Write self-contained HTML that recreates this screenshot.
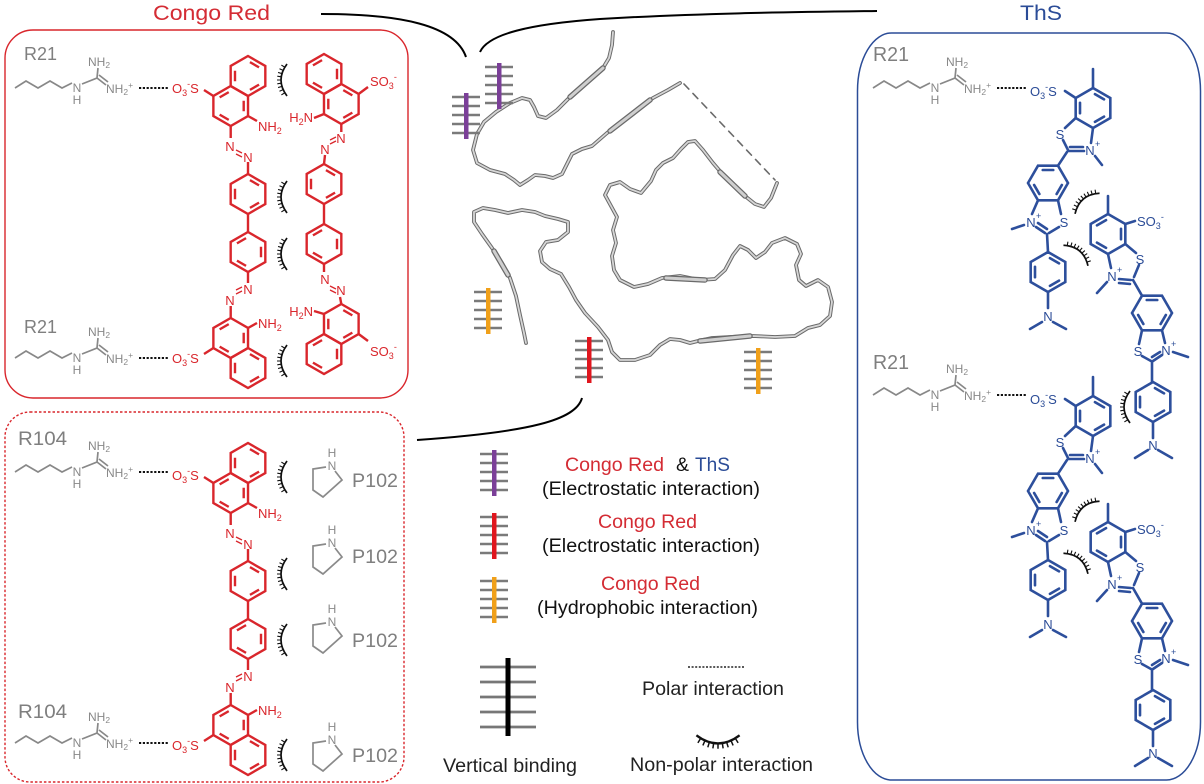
<!DOCTYPE html>
<html><head><meta charset="utf-8"><style>
html,body{margin:0;padding:0;background:#fff;}
svg{display:block;}
text{font-family:"Liberation Sans",Arial,sans-serif;}
</style></head><body>
<svg width="1204" height="784" viewBox="0 0 1204 784" xmlns="http://www.w3.org/2000/svg" xmlns:xlink="http://www.w3.org/1999/xlink">
<defs>
<g id="hx"><path d="M0,-20L17.32,-10L17.32,10L0,20L-17.32,10L-17.32,-10Z"/><path d="M1.95,-13.9L11.04,-8.6M11.05,8.6L1.95,13.9M-13,5.25L-13,-5.25"/></g>
<g id="hy"><path d="M0,-20L17.32,-10L17.32,10L0,20L-17.32,10L-17.32,-10Z"/><path d="M13,-5.25L13,5.25M-1.95,13.9L-11.05,8.6M-11.05,-8.6L-1.95,-13.9"/></g>
<g id="hf"><path d="M-20,0L-10,-17.32L10,-17.32L20,0L10,17.32L-10,17.32Z"/><path d="M-5.25,-13L5.25,-13M13.9,1.95L8.6,11.05M-8.6,11.05L-13.9,1.95"/></g>
<g id="arc" fill="none" stroke="#111"><path stroke-width="1.7" d="M2,-16Q-10,0 2,16"/><path stroke-width="1.1" d="M-0.16,-12.8L-3.6,-14.9M-1.84,-9.6L-5.5,-11.2M-3.04,-6.4L-6.9,-7.55M-3.76,-3.2L-7.7,-3.8M-4,0L-8,0M-3.76,3.2L-7.7,3.8M-3.04,6.4L-6.9,7.55M-1.84,9.6L-5.5,11.2M-0.16,12.8L-3.6,14.9"/></g>
<g id="ticks" stroke="#7a7a7a" stroke-width="2.4" fill="none"><path d="M-14,4H14M-14,13H14M-14,22H14M-14,31H14M-14,40H14"/></g>
<g id="argS" fill="none" stroke="#888" stroke-width="1.7">
<polyline points="15,88 26,81 38,88 50,81 62,88 72,83"/>
<path d="M82,84L97,78L98,68M97,78L106,85M99,75L108,82"/>
<path d="M139,88H168" stroke="#111" stroke-width="1.9" stroke-dasharray="2.2 1.6"/>
</g>
<g id="pent" fill="none" stroke="#8a8a8a" stroke-width="1.7"><path d="M-6,1L-19,3L-19,24L-9,31L10,14L3,5"/></g>
<g id="crL" fill="none" stroke="#d9262c" stroke-width="2.4">
<use href="#hx" xlink:href="#hx" x="248" y="76"/>
<use href="#hy" xlink:href="#hy" x="230.7" y="106"/>
<use href="#hx" xlink:href="#hx" x="248" y="194"/>
<use href="#hy" xlink:href="#hy" x="248" y="252"/>
<use href="#hy" xlink:href="#hy" x="230.7" y="338"/>
<use href="#hx" xlink:href="#hx" x="248" y="368"/>
<path d="M213.4,96L204,90M248,116L257,121M230.7,126L230.7,138M248,162L248,174M248,214L248,232M248,272L248,283M230.7,306L230.7,318M248,328L257,323M213.4,348L204,354"/>
<path d="M236,150L242,153M236,154L242,157M236,290L242,287M236,294L242,291" stroke-width="1.3"/>
</g>
<g id="thsS" fill="none" stroke="#2d4f9c" stroke-width="2.6" stroke-linecap="round">
<use href="#hx" xlink:href="#hx" x="1093" y="108"/>
<use href="#hf" xlink:href="#hf" x="1048" y="183"/>
<use href="#hx" xlink:href="#hx" x="1048" y="272"/>
<use href="#hy" xlink:href="#hy" x="1108" y="234"/>
<use href="#hf" xlink:href="#hf" x="1152" y="313"/>
<use href="#hx" xlink:href="#hx" x="1153" y="402"/>
<path d="M1093,88V69M1075.7,98L1065,91M1075.7,118L1065,128M1063,140L1068,150M1093,128L1091,143M1068,151H1084M1070,147H1083M1095,156L1102,165M1067,152L1058,165.7
M1038,200.3L1032,214M1058,200.3L1061,214M1036,227L1045,233M1038,223L1047,229M1049,233L1059,227M1024,225L1012,229M1047,234L1048,252M1048,292V308M1042,322L1030,329M1053,322L1066,329
M1108,214V196M1125.3,224L1135,221M1125.3,244L1136,253M1108,254L1111,268M1119,279L1131,280M1119,283L1130,284M1134,277L1139,265M1107,282L1097,293M1133,280L1142,295.7
M1142,330.3L1139,344M1162,330.3L1165,343M1142,356L1151,361M1153,361L1162,355M1152,357L1160,352M1173,352L1188,357M1152,362V382M1153,422V438M1148,450L1135,458M1158,450L1172,458"/>
</g>
</defs>

<!-- Titles -->
<text x="153" y="20" font-size="21" fill="#d42c34" textLength="117" lengthAdjust="spacingAndGlyphs">Congo Red</text>
<text x="1020" y="20" font-size="21" fill="#2b4c97" textLength="42" lengthAdjust="spacingAndGlyphs">ThS</text>

<!-- connectors -->
<g fill="none" stroke="#000" stroke-width="2">
<path d="M321,14C400,14 455,25 466,57"/>
<path d="M480,52C488,34 530,24 600,19C700,13 800,12 877,11"/>
<path d="M582,398C576,420 530,432 417,440"/>
</g>

<!-- boxes -->
<rect x="5" y="30" width="403" height="368" rx="28" ry="28" fill="none" stroke="#d9262c" stroke-width="1.4"/>
<rect x="5" y="412" width="399" height="370" rx="25" ry="25" fill="none" stroke="#d9262c" stroke-width="1.4" stroke-dasharray="2.5 2"/>
<rect x="857.5" y="33" width="343" height="747" rx="34" ry="58" fill="none" stroke="#2b4c97" stroke-width="1.5"/>

<!-- protein ribbon -->
<g fill="none" stroke-linejoin="round" stroke-linecap="round">
<polyline stroke="#6a6a6a" stroke-width="3.8" points="613,32 612,45 609,58 603,68 592,78 580,88 568,99 557,110 546,118 538,116 534,107 530,100 522,98 510,103 496,112 484,122 477,134 473,150 477,163 490,170 505,174 514,180 520,185 528,180 535,175 545,176 553,178 562,174 567,164 572,154 582,149 592,146 607,133 633,113 653,98 668,90 680,83"/>
<polyline stroke="#d6d6d6" stroke-width="1.8" points="613,32 612,45 609,58 603,68 592,78 580,88 568,99 557,110 546,118 538,116 534,107 530,100 522,98 510,103 496,112 484,122 477,134 473,150 477,163 490,170 505,174 514,180 520,185 528,180 535,175 545,176 553,178 562,174 567,164 572,154 582,149 592,146 607,133 633,113 653,98 668,90 680,83"/>
<path d="M684,84L775,180" stroke="#6a6a6a" stroke-width="1.6" stroke-dasharray="7 6"/>
<polyline stroke="#6a6a6a" stroke-width="3.8" points="777,183 771,198 764,207 755,204 745,196 735,186 725,177 713,163 703,150 695,141 688,142 681,149 673,158 663,163 656,170 651,181 641,193 630,189 620,182 610,185 605,195 611,206 617,217 613,230 616,243 612,256 614,270 620,280 634,287 648,284 662,278 680,276 700,280 715,279 725,270 733,255 740,246 748,250 756,258 765,252 772,243 785,238 797,244 801,254 796,265 799,280 806,286 818,280 828,287 832,302 830,316 820,325 808,328 795,336 775,337 753,336 730,337 712,338 698,341 690,343 680,340 670,339 660,345 650,355 635,360 620,360 612,352 608,340 598,327 585,313 576,300 569,287 561,274 550,269 542,262 540,251 546,242 558,240 568,232 568,222 558,219 545,216 535,212 522,210 508,213 495,210 483,208 474,212 474,222 482,234 492,248 502,263 510,278 516,296 520,315 524,333 526,343"/>
<polyline stroke="#d6d6d6" stroke-width="1.8" points="777,183 771,198 764,207 755,204 745,196 735,186 725,177 713,163 703,150 695,141 688,142 681,149 673,158 663,163 656,170 651,181 641,193 630,189 620,182 610,185 605,195 611,206 617,217 613,230 616,243 612,256 614,270 620,280 634,287 648,284 662,278 680,276 700,280 715,279 725,270 733,255 740,246 748,250 756,258 765,252 772,243 785,238 797,244 801,254 796,265 799,280 806,286 818,280 828,287 832,302 830,316 820,325 808,328 795,336 775,337 753,336 730,337 712,338 698,341 690,343 680,340 670,339 660,345 650,355 635,360 620,360 612,352 608,340 598,327 585,313 576,300 569,287 561,274 550,269 542,262 540,251 546,242 558,240 568,232 568,222 558,219 545,216 535,212 522,210 508,213 495,210 483,208 474,212 474,222 482,234 492,248 502,263 510,278 516,296 520,315 524,333 526,343"/>
<g stroke="#6a6a6a" stroke-width="5.5">
<path d="M603,68L570,97"/><path d="M610,131L650,100"/><path d="M745,196L720,172"/><path d="M700,341L750,336"/><path d="M666,278L705,280"/><path d="M494,251L508,275"/>
</g>
<g stroke="#cfcfcf" stroke-width="3">
<path d="M603,68L570,97"/><path d="M610,131L650,100"/><path d="M745,196L720,172"/><path d="M700,341L750,336"/><path d="M666,278L705,280"/><path d="M494,251L508,275"/>
</g>
</g>

<!-- binding bars on protein -->
<g transform="translate(466,93)"><use href="#ticks" xlink:href="#ticks"/><rect x="-2" y="0" width="4.5" height="46" fill="#7b3f98"/></g>
<g transform="translate(499,63)"><use href="#ticks" xlink:href="#ticks"/><rect x="-2" y="0" width="4.5" height="46" fill="#7b3f98"/></g>
<g transform="translate(488,288)"><use href="#ticks" xlink:href="#ticks"/><rect x="-2" y="0" width="4.5" height="46" fill="#f0a01a"/></g>
<g transform="translate(589,337)"><use href="#ticks" xlink:href="#ticks"/><rect x="-2" y="0" width="4.5" height="46" fill="#e0161e"/></g>
<g transform="translate(758,348)"><use href="#ticks" xlink:href="#ticks"/><rect x="-2" y="0" width="4.5" height="46" fill="#f0a01a"/></g>

<!-- legend -->
<g transform="translate(494,450)"><use href="#ticks" xlink:href="#ticks"/><rect x="-2" y="0" width="4.5" height="46" fill="#7b3f98"/></g>
<g transform="translate(494,513)"><use href="#ticks" xlink:href="#ticks"/><rect x="-2" y="0" width="4.5" height="46" fill="#e0161e"/></g>
<g transform="translate(494,577)"><use href="#ticks" xlink:href="#ticks"/><rect x="-2" y="0" width="4.5" height="46" fill="#f0a01a"/></g>
<g font-size="19.5">
<text x="565" y="471" fill="#d42c34" textLength="99" lengthAdjust="spacingAndGlyphs">Congo Red</text>
<text x="676" y="471" fill="#111">&amp;</text>
<text x="695" y="471" fill="#2b4c97" textLength="35" lengthAdjust="spacingAndGlyphs">ThS</text>
<text x="542" y="495" fill="#111" textLength="218" lengthAdjust="spacingAndGlyphs">(Electrostatic interaction)</text>
<text x="598" y="528" fill="#d42c34" textLength="99" lengthAdjust="spacingAndGlyphs">Congo Red</text>
<text x="542" y="552" fill="#111" textLength="218" lengthAdjust="spacingAndGlyphs">(Electrostatic interaction)</text>
<text x="601" y="590" fill="#d42c34" textLength="99" lengthAdjust="spacingAndGlyphs">Congo Red</text>
<text x="537" y="614" fill="#111" textLength="221" lengthAdjust="spacingAndGlyphs">(Hydrophobic interaction)</text>
<text x="443" y="772" fill="#222" textLength="134" lengthAdjust="spacingAndGlyphs">Vertical binding</text>
<text x="642" y="695" fill="#222" textLength="142" lengthAdjust="spacingAndGlyphs">Polar interaction</text>
<text x="630" y="771" fill="#222" textLength="183" lengthAdjust="spacingAndGlyphs">Non-polar interaction</text>
</g>
<g stroke="#777" stroke-width="2.8"><path d="M480,667H536M480,682H536M480,697H536M480,712H536M480,727H536"/></g>
<rect x="505.5" y="658" width="5" height="78" fill="#000"/>
<path d="M688,667H744" stroke="#222" stroke-width="1.6" stroke-dasharray="2 1.6"/>
<use href="#arc" xlink:href="#arc" transform="translate(718,738) rotate(-90) scale(1.35)"/>

<!-- labels -->
<g fill="#7f7f7f" font-size="18">
<text x="24" y="60" textLength="33" lengthAdjust="spacingAndGlyphs">R21</text>
<text x="24" y="333" textLength="33" lengthAdjust="spacingAndGlyphs">R21</text>
<text x="18" y="445" font-size="19" textLength="49" lengthAdjust="spacingAndGlyphs">R104</text>
<text x="18" y="718" font-size="19" textLength="49" lengthAdjust="spacingAndGlyphs">R104</text>
<text x="873" y="61" font-size="20" textLength="36" lengthAdjust="spacingAndGlyphs">R21</text>
<text x="873" y="369" font-size="20" textLength="36" lengthAdjust="spacingAndGlyphs">R21</text>
</g>

<!-- arginines -->
<g transform="translate(0,0)"><use href="#argS" xlink:href="#argS"/>
<g fill="#888" font-size="12"><text x="88" y="66">NH<tspan font-size="8.5" dy="2">2</tspan></text><text x="106" y="93">NH<tspan font-size="8.5" dy="2">2</tspan><tspan font-size="8.5" dy="-7">+</tspan></text><text x="77" y="92" text-anchor="middle">N</text><text x="77" y="104" text-anchor="middle">H</text></g></g>
<g transform="translate(0,270)"><use href="#argS" xlink:href="#argS"/>
<g fill="#888" font-size="12"><text x="88" y="66">NH<tspan font-size="8.5" dy="2">2</tspan></text><text x="106" y="93">NH<tspan font-size="8.5" dy="2">2</tspan><tspan font-size="8.5" dy="-7">+</tspan></text><text x="77" y="92" text-anchor="middle">N</text><text x="77" y="104" text-anchor="middle">H</text></g></g>
<g transform="translate(0,384)"><use href="#argS" xlink:href="#argS"/>
<g fill="#888" font-size="12"><text x="88" y="66">NH<tspan font-size="8.5" dy="2">2</tspan></text><text x="106" y="93">NH<tspan font-size="8.5" dy="2">2</tspan><tspan font-size="8.5" dy="-7">+</tspan></text><text x="77" y="92" text-anchor="middle">N</text><text x="77" y="104" text-anchor="middle">H</text></g></g>
<g transform="translate(0,655)"><use href="#argS" xlink:href="#argS"/>
<g fill="#888" font-size="12"><text x="88" y="66">NH<tspan font-size="8.5" dy="2">2</tspan></text><text x="106" y="93">NH<tspan font-size="8.5" dy="2">2</tspan><tspan font-size="8.5" dy="-7">+</tspan></text><text x="77" y="92" text-anchor="middle">N</text><text x="77" y="104" text-anchor="middle">H</text></g></g>
<g transform="translate(858,0)"><use href="#argS" xlink:href="#argS"/>
<g fill="#888" font-size="12"><text x="88" y="66">NH<tspan font-size="8.5" dy="2">2</tspan></text><text x="106" y="93">NH<tspan font-size="8.5" dy="2">2</tspan><tspan font-size="8.5" dy="-7">+</tspan></text><text x="77" y="92" text-anchor="middle">N</text><text x="77" y="104" text-anchor="middle">H</text></g></g>
<g transform="translate(858,307)"><use href="#argS" xlink:href="#argS"/>
<g fill="#888" font-size="12"><text x="88" y="66">NH<tspan font-size="8.5" dy="2">2</tspan></text><text x="106" y="93">NH<tspan font-size="8.5" dy="2">2</tspan><tspan font-size="8.5" dy="-7">+</tspan></text><text x="77" y="92" text-anchor="middle">N</text><text x="77" y="104" text-anchor="middle">H</text></g></g>

<!-- Congo red left molecule (top box) -->
<use href="#crL" xlink:href="#crL"/>
<g fill="#d9262c" font-size="13">
<text x="172" y="93">O<tspan font-size="9" dy="3">3</tspan><tspan font-size="9" dy="-9">-</tspan><tspan dy="6">S</tspan></text>
<text x="258" y="131">NH<tspan font-size="9" dy="3">2</tspan></text>
<text x="230" y="151" text-anchor="middle">N</text>
<text x="248" y="162" text-anchor="middle">N</text>
<text x="248" y="294" text-anchor="middle">N</text>
<text x="230" y="305" text-anchor="middle">N</text>
<text x="258" y="328">NH<tspan font-size="9" dy="3">2</tspan></text>
<text x="172" y="363">O<tspan font-size="9" dy="3">3</tspan><tspan font-size="9" dy="-9">-</tspan><tspan dy="6">S</tspan></text>
</g>

<!-- Congo red right molecule (top box) -->
<g fill="none" stroke="#d9262c" stroke-width="2.4">
<use href="#hy" xlink:href="#hy" x="324" y="74"/>
<use href="#hx" xlink:href="#hx" x="341.3" y="104"/>
<use href="#hx" xlink:href="#hx" x="324" y="184"/>
<use href="#hy" xlink:href="#hy" x="324" y="244"/>
<use href="#hx" xlink:href="#hx" x="341.3" y="324"/>
<use href="#hy" xlink:href="#hy" x="324" y="354"/>
<path d="M358.6,94L368,87M324,114L314,118M341.3,124L341.3,132M325,155L324,164M324,204L324,224M324,264L324,272M340,297L341.3,304M324,314L314,311M358.6,334L368,341"/>
<path d="M330,140L336,137M330,144L336,141M330,286L336,289M330,290L336,293" stroke-width="1.3"/>
</g>
<g fill="#d9262c" font-size="13">
<text x="370" y="86">SO<tspan font-size="9" dy="3">3</tspan><tspan font-size="9" dy="-9">-</tspan></text>
<text x="313" y="122" text-anchor="end">H<tspan font-size="9" dy="3">2</tspan><tspan dy="-3">N</tspan></text>
<text x="341" y="143" text-anchor="middle">N</text>
<text x="325" y="154" text-anchor="middle">N</text>
<text x="325" y="284" text-anchor="middle">N</text>
<text x="341" y="295" text-anchor="middle">N</text>
<text x="313" y="316" text-anchor="end">H<tspan font-size="9" dy="3">2</tspan><tspan dy="-3">N</tspan></text>
<text x="370" y="356">SO<tspan font-size="9" dy="3">3</tspan><tspan font-size="9" dy="-9">-</tspan></text>
</g>

<!-- arcs top box -->
<use href="#arc" xlink:href="#arc" transform="translate(285,80)"/>
<use href="#arc" xlink:href="#arc" transform="translate(285,197)"/>
<use href="#arc" xlink:href="#arc" transform="translate(285,254)"/>
<use href="#arc" xlink:href="#arc" transform="translate(285,361)"/>

<!-- ========== bottom dashed box ========== -->
<use href="#crL" xlink:href="#crL" transform="translate(0,387)"/>
<g fill="#d9262c" font-size="13" transform="translate(0,387)">
<text x="172" y="93">O<tspan font-size="9" dy="3">3</tspan><tspan font-size="9" dy="-9">-</tspan><tspan dy="6">S</tspan></text>
<text x="258" y="131">NH<tspan font-size="9" dy="3">2</tspan></text>
<text x="230" y="151" text-anchor="middle">N</text>
<text x="248" y="162" text-anchor="middle">N</text>
<text x="248" y="294" text-anchor="middle">N</text>
<text x="230" y="305" text-anchor="middle">N</text>
<text x="258" y="328">NH<tspan font-size="9" dy="3">2</tspan></text>
<text x="172" y="363">O<tspan font-size="9" dy="3">3</tspan><tspan font-size="9" dy="-9">-</tspan><tspan dy="6">S</tspan></text>
</g>
<use href="#arc" xlink:href="#arc" transform="translate(285,477)"/>
<use href="#arc" xlink:href="#arc" transform="translate(285,574)"/>
<use href="#arc" xlink:href="#arc" transform="translate(285,640)"/>
<use href="#arc" xlink:href="#arc" transform="translate(285,755)"/>

<!-- pyrrolidines P102 -->
<g transform="translate(332,466)"><use href="#pent" xlink:href="#pent"/><g fill="#8a8a8a" font-size="12" text-anchor="middle"><text x="0" y="4">N</text><text x="0" y="-9">H</text></g></g>
<g transform="translate(332,543)"><use href="#pent" xlink:href="#pent"/><g fill="#8a8a8a" font-size="12" text-anchor="middle"><text x="0" y="4">N</text><text x="0" y="-9">H</text></g></g>
<g transform="translate(332,622)"><use href="#pent" xlink:href="#pent"/><g fill="#8a8a8a" font-size="12" text-anchor="middle"><text x="0" y="4">N</text><text x="0" y="-9">H</text></g></g>
<g transform="translate(332,740)"><use href="#pent" xlink:href="#pent"/><g fill="#8a8a8a" font-size="12" text-anchor="middle"><text x="0" y="4">N</text><text x="0" y="-9">H</text></g></g>
<g fill="#7f7f7f" font-size="19">
<text x="352" y="487" textLength="46" lengthAdjust="spacingAndGlyphs">P102</text>
<text x="352" y="563" textLength="46" lengthAdjust="spacingAndGlyphs">P102</text>
<text x="352" y="647" textLength="46" lengthAdjust="spacingAndGlyphs">P102</text>
<text x="352" y="762" textLength="46" lengthAdjust="spacingAndGlyphs">P102</text>
</g>

<!-- ========== ThS ========== -->
<use href="#thsS" xlink:href="#thsS"/>
<use href="#thsS" xlink:href="#thsS" transform="translate(0,308)"/>
<g fill="#2b4c97" font-size="13">
<text x="1030" y="96">O<tspan font-size="9" dy="3">3</tspan><tspan font-size="9" dy="-9">-</tspan><tspan dy="6">S</tspan></text>
<text x="1060" y="139" text-anchor="middle">S</text>
<text x="1090" y="155" text-anchor="middle">N</text><text x="1095" y="147" font-size="9">+</text>
<text x="1031" y="227" text-anchor="middle">N</text><text x="1036" y="219" font-size="9">+</text>
<text x="1064" y="227" text-anchor="middle">S</text>
<text x="1048" y="321" text-anchor="middle">N</text>
<text x="1137" y="226">SO<tspan font-size="9" dy="3">3</tspan><tspan font-size="9" dy="-9">-</tspan></text>
<text x="1140" y="264" text-anchor="middle">S</text>
<text x="1112" y="281" text-anchor="middle">N</text><text x="1117" y="273" font-size="9">+</text>
<text x="1138" y="356" text-anchor="middle">S</text>
<text x="1166" y="355" text-anchor="middle">N</text><text x="1171" y="347" font-size="9">+</text>
<text x="1153" y="450" text-anchor="middle">N</text>
</g>
<g fill="#2b4c97" font-size="13" transform="translate(0,308)">
<text x="1030" y="96">O<tspan font-size="9" dy="3">3</tspan><tspan font-size="9" dy="-9">-</tspan><tspan dy="6">S</tspan></text>
<text x="1060" y="139" text-anchor="middle">S</text>
<text x="1090" y="155" text-anchor="middle">N</text><text x="1095" y="147" font-size="9">+</text>
<text x="1031" y="227" text-anchor="middle">N</text><text x="1036" y="219" font-size="9">+</text>
<text x="1064" y="227" text-anchor="middle">S</text>
<text x="1048" y="321" text-anchor="middle">N</text>
<text x="1137" y="226">SO<tspan font-size="9" dy="3">3</tspan><tspan font-size="9" dy="-9">-</tspan></text>
<text x="1140" y="264" text-anchor="middle">S</text>
<text x="1112" y="281" text-anchor="middle">N</text><text x="1117" y="273" font-size="9">+</text>
<text x="1138" y="356" text-anchor="middle">S</text>
<text x="1166" y="355" text-anchor="middle">N</text><text x="1171" y="347" font-size="9">+</text>
<text x="1153" y="450" text-anchor="middle">N</text>
</g>
<use href="#arc" xlink:href="#arc" transform="translate(1086,202) rotate(50)"/>
<use href="#arc" xlink:href="#arc" transform="translate(1077,254) rotate(130)"/>
<use href="#arc" xlink:href="#arc" transform="translate(1086,510) rotate(50)"/>
<use href="#arc" xlink:href="#arc" transform="translate(1077,562) rotate(130)"/>
<use href="#arc" xlink:href="#arc" transform="translate(1128,407)"/>
</svg>
</body></html>
